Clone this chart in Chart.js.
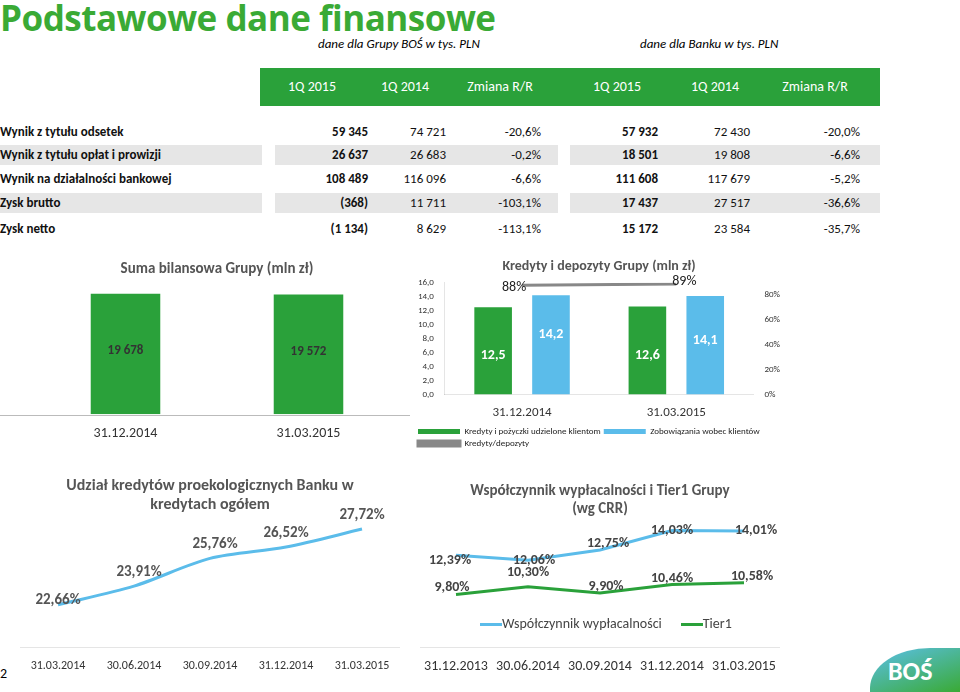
<!DOCTYPE html>
<html><head><meta charset="utf-8">
<script src="https://cdn.jsdelivr.net/npm/chart.js@4/dist/chart.umd.min.js"></script>
<style>
body{margin:0;width:960px;height:692px;position:relative;background:#fff;font-family:Calibri,Carlito,"Liberation Sans",Arial,sans-serif;overflow:hidden}
.abs{position:absolute}
h1{position:absolute;left:0;top:-6px;margin:0;font-size:35px;color:#3aaa35;font-weight:bold;font-family:"Open Sans",sans-serif;letter-spacing:-0.5px}
.hdr{background:#2aa13a;color:#fff;font-size:14px}
.row{position:absolute;left:0;width:960px;height:22px;font-size:13px;line-height:22px;color:#111}
.row span{position:absolute}
.g{background:#e6e6e6}
</style></head><body>
<h1>Podstawowe dane finansowe</h1>
<div class="abs" style="left:318px;top:36px;font-size:13px;font-style:italic">dane dla Grupy BOŚ w tys. PLN</div>
<div class="abs" style="left:640px;top:36px;font-size:13px;font-style:italic">dane dla Banku w tys. PLN</div>
<div class="abs hdr" style="left:260px;top:68px;width:620px;height:38px"></div>
<div id="tbl"></div>
<div class="abs" style="left:0;top:415px;width:410px;height:1px;background:#bbb"></div>
<div class="abs" style="left:34px;top:260px;width:366px;height:185px"><canvas id="c1"></canvas></div>
<div class="abs" style="left:415px;top:258px;width:368px;height:200px"><canvas id="c2"></canvas></div>
<div class="abs" style="left:20px;top:476px;width:380px;height:200px"><canvas id="c3"></canvas></div>
<div class="abs" style="left:420px;top:482px;width:360px;height:196px"><canvas id="c4"></canvas></div>
<div class="abs" style="left:480px;top:615px;font-size:14px;color:#444"><span style="display:inline-block;width:22px;height:3px;background:#5bbcea;vertical-align:middle"></span>Współczynnik wypłacalności&nbsp;&nbsp;&nbsp;&nbsp;&nbsp;&nbsp;<span style="display:inline-block;width:22px;height:3px;background:#2aa13a;vertical-align:middle"></span>Tier1</div>
<div class="abs" style="left:0;top:665px;font-size:14px">2</div>
<div class="abs" style="left:870px;top:648px;width:90px;height:44px;background:linear-gradient(160deg,#5bc0eb,#3aaa35);border-top-left-radius:60px 40px"></div>
<div class="abs" style="left:888px;top:655px;font-size:26px;font-weight:bold;color:#fff">BOŚ</div>
<script>
const colHeads=["1Q 2015","1Q 2014","Zmiana R/R","1Q 2015","1Q 2014","Zmiana R/R"];
const rowNames=["Wynik z tytułu odsetek","Wynik z tytułu opłat i prowizji","Wynik na działalności bankowej","Zysk brutto","Zysk netto"];
const rowVals=[["59 345","74 721","-20,6%","57 932","72 430","-20,0%"],["26 637","26 683","-0,2%","18 501","19 808","-6,6%"],["108 489","116 096","-6,6%","111 608","117 679","-5,2%"],["(368)","11 711","-103,1%","17 437","27 517","-36,6%"],["(1 134)","8 629","-113,1%","15 172","23 584","-35,7%"]];
const bsCats=["31.12.2014","31.03.2015"];
const bsVals=[19678,19572];
const kdCats=["31.12.2014","31.03.2015"];
const kredyty=[12.5,12.6];
const depozyty=[14.2,14.1];
const kdRatio=[0.88,0.89];
const ekoCats=["31.03.2014","30.06.2014","30.09.2014","31.12.2014","31.03.2015"];
const ekoVals=[22.66,23.91,25.76,26.52,27.72];
const capCats=["31.12.2013","30.06.2014","30.09.2014","31.12.2014","31.03.2015"];
const wyplac=[12.39,12.06,12.75,14.03,14.01];
const tier1=[9.80,10.30,9.90,10.46,10.58];

const tbl=document.getElementById('tbl');
const colX=[312,405,500,617,715,815];
colHeads.forEach((h,i)=>{const d=document.createElement('div');d.className='abs';d.style.cssText=`left:${colX[i]-50}px;width:100px;text-align:center;top:78px;color:#fff;font-size:14px`;d.textContent=h;tbl.appendChild(d);});
const rowY=[121,144,168,192,218];
rowNames.forEach((n,r)=>{const d=document.createElement('div');d.className='row';d.style.top=rowY[r]+'px';
 let html='';
 if(r==1||r==3){html+=`<div class="g" style="position:absolute;left:0;width:262px;height:20px;top:1px"></div><div class="g" style="position:absolute;left:275px;width:283px;height:20px;top:1px"></div><div class="g" style="position:absolute;left:570px;width:310px;height:20px;top:1px"></div>`;}
 html+=`<span style="left:0;font-weight:bold">${n}</span>`;
 const rx=[368,446,541,658,750,860];
 rowVals[r].forEach((v,i)=>{const bold=(i==0||i==3);html+=`<span style="right:${960-rx[i]}px;${bold?'font-weight:bold':''}">${v}</span>`;});
 d.innerHTML=html;tbl.appendChild(d);});

Chart.defaults.font.family='Calibri, Carlito, "Liberation Sans", Arial, sans-serif';
Chart.defaults.animation=false;
const G='#2aa13a',B='#5bbcea';
const labels={id:'lbl',afterDatasetsDraw(c,a,o){const ctx=c.ctx;(o.items||[]).forEach(it=>{const m=c.getDatasetMeta(it.ds);m.data.forEach((el,i)=>{ctx.save();ctx.font=(it.bold?'bold ':'')+it.size+'px Calibri, Carlito, "Liberation Sans", Arial';ctx.fillStyle=it.color;ctx.textAlign='center';ctx.textBaseline='middle';
 let txt=it.fmt(c.data.datasets[it.ds].data[i],i);let x=el.x+(it.dx?it.dx[i]||0:0),y=(it.inside?(el.y+el.base)/2:el.y)+(it.dy?it.dy[i]:0);ctx.fillText(txt,x,y);ctx.restore();});});}};
Chart.register(labels);
const fmtPct=v=>v.toFixed(2).replace('.',',')+'%';
function fmt2(v){return v.toFixed(2).replace('.',',')+'%';}

new Chart(c1,{type:'bar',data:{labels:bsCats,datasets:[{data:bsVals,backgroundColor:G,barPercentage:0.38,categoryPercentage:1}]},
options:{responsive:true,maintainAspectRatio:false,plugins:{legend:{display:false},title:{display:true,text:'Suma bilansowa Grupy (mln zł)',color:'#555',font:{size:15,weight:'bold'},padding:{top:0,bottom:12}},
lbl:{items:[{ds:0,inside:true,size:13,bold:true,color:'#333',fmt:v=>String(v).replace(/(\d{2})(\d{3})/,'$1 $2'),dy:[-3,-3]}]}},
scales:{x:{grid:{display:false},border:{display:false},ticks:{color:'#333',font:{size:14}}},y:{display:false,min:0,max:20300}}}});

new Chart(c2,{data:{labels:kdCats,datasets:[
{type:'line',label:'Kredyty/depozyty',data:kdRatio,yAxisID:'y1',borderColor:'#888',borderWidth:3,pointRadius:0,backgroundColor:'#888',order:0},
{type:'bar',label:'Kredyty i pożyczki udzielone klientom',data:kredyty,backgroundColor:G,barPercentage:0.65,categoryPercentage:0.75},
{type:'bar',label:'Zobowiązania wobec klientów',data:depozyty,backgroundColor:B,barPercentage:0.65,categoryPercentage:0.75}]},
options:{responsive:true,maintainAspectRatio:false,plugins:{title:{display:true,text:'Kredyty i depozyty Grupy (mln zł)',color:'#555',font:{size:14,weight:'bold'},padding:{top:0,bottom:8}},
legend:{position:'bottom',align:'start',labels:{boxWidth:42,boxHeight:5,font:{size:9},color:'#222',padding:3,sort:(a,b)=>(b.datasetIndex?1:0)-(a.datasetIndex?1:0)||a.datasetIndex-b.datasetIndex}},
lbl:{items:[{ds:1,inside:true,size:14,bold:true,color:'#fff',fmt:v=>v.toFixed(1).replace('.',','),dy:[5,5]},{ds:2,inside:true,size:14,bold:true,color:'#fff',fmt:v=>v.toFixed(1).replace('.',','),dy:[-10,-5]},
{ds:0,size:14,color:'#222',fmt:v=>Math.round(v*100)+'%',dx:[-8,8],dy:[2,-3]}]}},
scales:{x:{grid:{display:false},ticks:{color:'#333',font:{size:13}}},
y:{min:0,max:16,ticks:{stepSize:2,font:{size:9},color:'#333',callback:v=>v.toFixed(1).replace('.',',')},grid:{display:false}},
y1:{position:'right',min:0,max:0.9,ticks:{stepSize:0.2,font:{size:9},color:'#333',callback:v=>v>0.85?'':Math.round(v*100)+'%'},grid:{display:false},border:{display:false}}}}});

new Chart(c3,{type:'line',data:{labels:ekoCats,datasets:[{data:ekoVals,borderColor:B,borderWidth:3,pointRadius:0,tension:0.3}]},
options:{responsive:true,maintainAspectRatio:false,plugins:{legend:{display:false},title:{display:true,text:['Udział kredytów proekologicznych Banku w','kredytach ogółem'],color:'#555',font:{size:16,weight:'bold'},padding:{top:0,bottom:6}},
lbl:{items:[{ds:0,size:15,bold:true,color:'#555',fmt:fmt2,dx:[0,5,5,0,0],dy:[-5,-14,-14,-14,-14]}]}},
scales:{x:{grid:{display:false,drawTicks:true},ticks:{color:'#333',font:{size:12}},offset:true},y:{display:false,min:19.8,max:28.3}}}});

new Chart(c4,{type:'line',data:{labels:capCats,datasets:[
{label:'Współczynnik wypłacalności',data:wyplac,borderColor:B,borderWidth:3,pointRadius:0,backgroundColor:B,clip:false},
{label:'Tier1',data:tier1,borderColor:G,borderWidth:3,pointRadius:0,backgroundColor:G,clip:false}]},
options:{responsive:true,maintainAspectRatio:false,plugins:{title:{display:true,text:['Współczynnik wypłacalności i Tier1 Grupy','(wg CRR)'],color:'#555',font:{size:15,weight:'bold'},padding:{top:0,bottom:4}},
legend:{display:false},
lbl:{items:[{ds:0,size:14,bold:true,color:'#444',fmt:fmtPct,dx:[-6,6,8,0,12],dy:[5,0,-6,0,0]},{ds:1,size:14,bold:true,color:'#444',fmt:fmtPct,dx:[-4,0,6,0,8],dy:[-7,-14,-6,-6,-6]}]}},
scales:{x:{grid:{display:false},ticks:{color:'#333',font:{size:14}},offset:true},y:{display:false,min:6.3,max:14.6}}}});
</script>
</body></html>
